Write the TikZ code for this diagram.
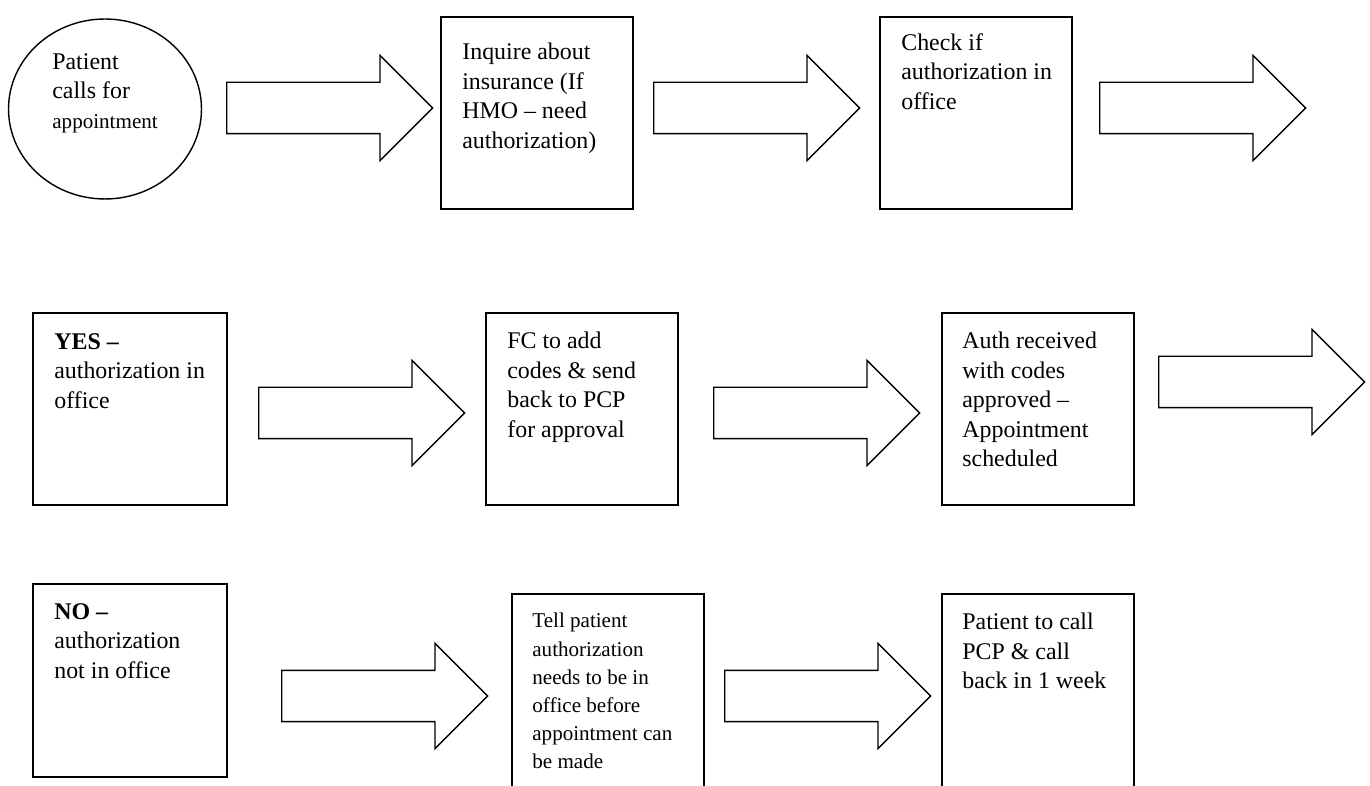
\documentclass[tikz,border=0pt]{standalone}
\usepackage{fontspec}
\setmainfont{Liberation Serif}
\usetikzlibrary{shapes.geometric,shapes.arrows}

\tikzset{
  stepbox/.style={draw, rectangle, line width=0.8pt, minimum width=3.84cm, minimum height=3.84cm},
  fatarrow/.style={draw, single arrow, line width=0.8pt, anchor=tail, inner xsep=0pt, inner ysep=0.5cm,
    single arrow head extend=0.54cm, minimum height=4.12cm},
  boxtext/.style={anchor=north west, inner sep=0pt, align=left, font=\fontsize{13.6}{16.8}\selectfont},
  smalltext/.style={boxtext, font=\fontsize{12}{16}\selectfont}
}

\begin{document}
\begin{tikzpicture}[x=0.02cm, y=-0.02cm]
  \useasboundingbox (0,0) rectangle (1370,786);
  \clip (0,0) rectangle (1370,786);

  % First row
  \node[draw, ellipse, line width=0.8pt, minimum width=3.86cm, minimum height=3.6cm] (call) at (105,109) {};
  \node[boxtext] (calltxt) at (52,53) {Patient\\calls for\\{\fontsize{12}{16}\selectfont appointment}};

  \node[stepbox] (inquire) at (537,113) {};
  \node[boxtext] (inquiretxt) at (462,43) {Inquire about\\insurance (If\\HMO – need\\authorization)};

  \node[stepbox] (check) at (976,113) {};
  \node[boxtext] (checktxt) at (901,33) {Check if\\authorization in\\office};

  \node[fatarrow] (arr1) at (226,108) {};
  \node[fatarrow] (arr2) at (653,108) {};
  \node[fatarrow] (arr3) at (1099,108) {};

  % Second row (authorization in office)
  \node[stepbox, minimum width=3.88cm] (yes) at (130,409) {};
  \node[boxtext] (yestxt) at (54,333) {\textbf{YES –}\\authorization in\\office};

  \node[stepbox] (codes) at (582,409) {};
  \node[boxtext] (codestxt) at (507,332) {FC to add\\codes \& send\\back to PCP\\for approval};

  \node[stepbox] (auth) at (1038,409) {};
  \node[boxtext] (authtxt) at (962,332) {Auth received\\with codes\\approved –\\Appointment\\scheduled};

  \node[fatarrow] (arr4) at (258,413) {};
  \node[fatarrow] (arr5) at (713,413) {};
  \node[fatarrow] (arr6) at (1158,382) {};

  % Third row (authorization not in office)
  \node[stepbox, minimum width=3.88cm, minimum height=3.86cm] (no) at (130,680.5) {};
  \node[boxtext] (notxt) at (54,603) {\textbf{NO –}\\authorization\\not in office};

  \node[stepbox, minimum height=4.2cm] (tell) at (608,699) {};
  \node[smalltext] (telltxt) at (532,613) {Tell patient\\authorization\\needs to be in\\office before\\appointment can\\be made};

  \node[stepbox, minimum height=4.2cm] (callback) at (1038,699) {};
  \node[boxtext] (callbacktxt) at (962,613) {Patient to call\\PCP \& call\\back in 1 week};

  \node[fatarrow] (arr7) at (281,696) {};
  \node[fatarrow] (arr8) at (724,696) {};
\end{tikzpicture}
\end{document}
